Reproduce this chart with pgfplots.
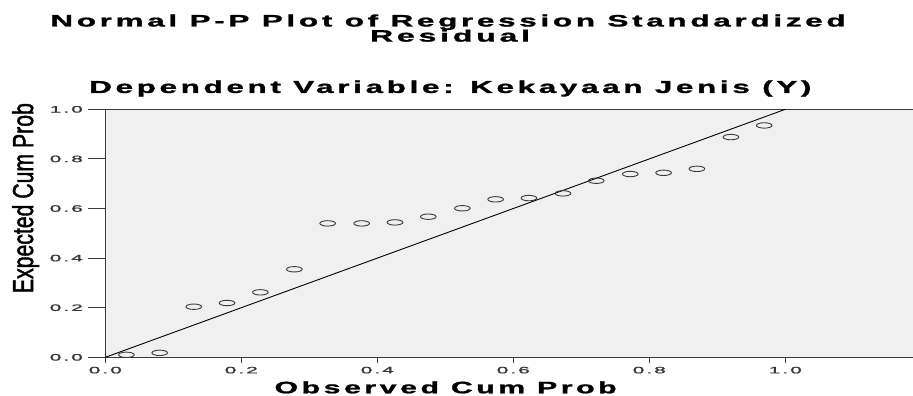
\documentclass[border=0pt]{standalone}
\usepackage{fontspec}
\setmainfont{Liberation Sans}
\newfontfamily\titlefont{Liberation Sans Bold}[LetterSpace=12,FakeBold=1.2]
\newfontfamily\tickfont{Liberation Sans}[LetterSpace=10,FakeBold=1.2]
\newfontfamily\ylabfont{Liberation Sans}[FakeBold=1.8]
\usepackage{graphicx}
\usepackage{pgfplots}
\pgfplotsset{compat=1.18}
\definecolor{bg}{HTML}{F0F0F0}
\definecolor{axc}{HTML}{3A3A3A}
\definecolor{tkc}{HTML}{383838}

\pgfplotstableread{
x y
0.031 0.010
0.080 0.018
0.130 0.204
0.179 0.219
0.228 0.262
0.278 0.355
0.327 0.540
0.377 0.540
0.426 0.544
0.475 0.567
0.525 0.601
0.574 0.637
0.623 0.642
0.673 0.661
0.722 0.712
0.772 0.739
0.821 0.744
0.870 0.760
0.920 0.888
0.969 0.935
}\pptable

\pgfplotstableread{
x y
-0.025 0.0
0 0.0
nan nan
-0.025 0.2
0 0.2
nan nan
-0.025 0.4
0 0.4
nan nan
-0.025 0.6
0 0.6
nan nan
-0.025 0.8
0 0.8
nan nan
-0.025 1.0
0 1.0
}\yticktable

\newcommand{\tl}[1]{\resizebox{33pt}{6.5pt}{\tickfont\pgfmathprintnumber[fixed,fixed zerofill,precision=1,assume math mode=true]{#1}}}

\begin{document}
\begin{tikzpicture}
\begin{axis}[
  scale only axis, width=816pt, height=248pt,
  xmin=0, xmax=1.2, ymin=0, ymax=1,
  axis background/.style={fill=bg},
  axis line style={axc, line width=1pt},
  xtick={0,0.2,0.4,0.6,0.8,1.0},
  ytick={0,0.2,0.4,0.6,0.8,1.0},
  tick align=outside, tickpos=left,
  major tick length=6pt,
  xtick style={axc, line width=1pt},
  ytick style={draw=none},
  xticklabel={\tl{\tick}},
  yticklabel={\tl{\tick}},
  xticklabel style={text=tkc},
  yticklabel style={text=tkc, xshift=-13pt},
  clip=false,
  unbounded coords=jump,
]
\addplot[no marks, axc, line width=1pt, forget plot] table[x=x, y=y] {\yticktable};
\addplot[no marks, black, line width=0.9pt] coordinates {(0,0) (1,1)};
\addplot[only marks, mark=o, mark size=2.7pt, draw=axc,
  mark options={xscale=2.9, line width=0.9pt, draw=axc}] table[x=x, y=y] {\pptable};

\node[anchor=base, inner sep=0pt] at (axis cs:0.5040,1.334)
  {\resizebox{795pt}{12pt}{\titlefont Normal P-P Plot of Regression Standardized}};
\node[anchor=base, inner sep=0pt] at (axis cs:0.5070,1.273)
  {\resizebox{160pt}{12pt}{\titlefont Residual}};
\node[anchor=base, inner sep=0pt] at (axis cs:0.5075,1.066)
  {\resizebox{722pt}{12.5pt}{\titlefont Dependent Variable: Kekayaan Jenis (Y)}};
\node[anchor=base, inner sep=0pt] at (axis cs:0.5005,-0.145)
  {\resizebox{342pt}{12pt}{\titlefont Observed Cum Prob}};
\node[anchor=base, rotate=90, inner sep=0pt] at (axis cs:-0.1063,0.642)
  {\resizebox{190pt}{21pt}{\ylabfont Expected Cum Prob}};

\coordinate (bbsw) at (axis cs:-0.1549,-0.156);
\coordinate (bbne) at (axis cs:1.1878,1.4408);
\end{axis}
\pgfresetboundingbox
\path[use as bounding box] (bbsw) rectangle (bbne);
\end{tikzpicture}
\end{document}
